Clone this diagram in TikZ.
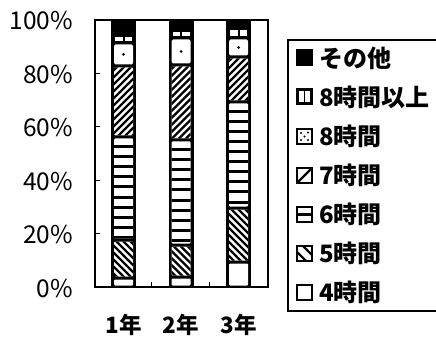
\documentclass[tikz,border=0pt]{standalone}
\usepackage{fontspec}
\setmainfont{Liberation Sans}
\newfontfamily\jp{Noto Sans CJK JP}
\newcommand\barbg[1]{\fill (#1,20) rectangle ({#1+25},287);}
\newcommand\segW[3]{\fill[white,rounded corners=1pt] ({#1+3},{#2+1.5}) rectangle ({#1+22},{#3-1.5});}
\newcommand\segH[3]{\begin{scope}\clip[rounded corners=1pt] ({#1+3},{#2+1.5}) rectangle ({#1+22},{#3-1.5});\fill[white] (#1,#2) rectangle ({#1+25},#3);\foreach \k in {0,...,15}{\fill (#1,{#2+8.5+10*\k}) rectangle ({#1+25},{#2+11.5+10*\k});}\end{scope}}
\newcommand\segNE[3]{\begin{scope}\clip[rounded corners=1pt] ({#1+3},{#2+1.5}) rectangle ({#1+22},{#3-1.5});\fill[white] (#1,#2) rectangle ({#1+25},#3);\foreach \k in {0,...,30}{\draw[line width=2.4pt] (#1,{#2+7*\k}) -- ({#1+25},{#2+7*\k-25});}\end{scope}}
\newcommand\segNW[3]{\begin{scope}\clip[rounded corners=1pt] ({#1+3},{#2+1.5}) rectangle ({#1+22},{#3-1.5});\fill[white] (#1,#2) rectangle ({#1+25},#3);\foreach \k in {0,...,30}{\draw[line width=2.4pt] (#1,{#2-25+7*\k}) -- ({#1+25},{#2+7*\k});}\end{scope}}
\newcommand\segDot[3]{\fill[white,rounded corners=1.5pt] ({#1+3},{#2+1.5}) rectangle ({#1+22},{#3-1.5});\fill ({#1+12.5},{(#2+#3)/2}) circle (1.5);}
\newcommand\segTwo[3]{\fill[white] ({#1+4},{#2+2}) rectangle ({#1+11.5},{#3-2});\fill[white] ({#1+13.5},{#2+2}) rectangle ({#1+21},{#3-2});}
\begin{document}
\begin{tikzpicture}[x=1pt,y=-1pt,
  axislab/.style={font=\jp\fontsize{24.5}{24.5}\selectfont,anchor=base east,inner sep=0pt},
  yearlab/.style={font=\jp\bfseries\fontsize{22.5}{22.5}\selectfont,anchor=base,inner sep=0pt},
  leglab/.style={font=\jp\bfseries\fontsize{24}{24}\selectfont,anchor=west,inner sep=0pt},
  icon/.style={line width=2.2pt}]
\useasboundingbox (0,0) rectangle (436,339);
% frame and ticks
\draw[line width=1.5pt] (95,20) rectangle (268,287);
\foreach \t in {73.4,126.8,180.2,233.6}{\draw[line width=1pt] (95,\t) -- (100,\t);}
\draw[line width=1pt] (151.5,287) -- (151.5,282);
\draw[line width=1pt] (209,287) -- (209,282);
% axis labels
\node[axislab] (p100) at (73,30) {100\%};
\node[axislab] (p80) at (73,83.4) {80\%};
\node[axislab] (p60) at (73,136.8) {60\%};
\node[axislab] (p40) at (73,190.2) {40\%};
\node[axislab] (p20) at (73,243.6) {20\%};
\node[axislab] (p0) at (73,297) {0\%};
% bar 1
\barbg{111}
\segW{111}{278}{287}\segNW{111}{240}{278}\segH{111}{137}{240}\segNE{111}{66}{137}\segDot{111}{43}{66}\segTwo{111}{35}{43}
% bar 2
\barbg{168.5}
\segW{168.5}{277}{287}\segNW{168.5}{245}{277}\segH{168.5}{140}{245}\segNE{168.5}{65}{140}\segDot{168.5}{38}{65}\segTwo{168.5}{30}{38}
% bar 3
\barbg{226}
\segW{226}{262}{287}\segNW{226}{208}{262}\segH{226}{102}{208}\segNE{226}{57}{102}\segDot{226}{38}{57}\segTwo{226}{28}{38}
% year labels
\node[yearlab] (y1) at (123.5,333) {1年};
\node[yearlab] (y2) at (181,333) {2年};
\node[yearlab] (y3) at (238.5,333) {3年};
% legend frame
\draw[line width=1.2pt] (440,40) -- (288,40) -- (288,311) -- (440,311);
% legend icons
\fill (296,49.5) rectangle (313,66.5);
\fill (296,88.5) rectangle (313,105.5);
\fill[white] (299,91.5) rectangle (303.8,102.5);
\fill[white] (305.2,91.5) rectangle (310,102.5);
\draw[icon] (297,129) rectangle (312,144);
\foreach \p in {(301,133),(308,132.5),(304.5,136.5),(301,140),(308,140)}{\fill \p circle (1.1);}
\draw[icon] (297,168) rectangle (312,183);
\draw[icon] (298,182) -- (311,169);
\draw[icon] (297,207) rectangle (312,222);
\draw[icon] (297,214.5) -- (312,214.5);
\draw[icon] (297,246) rectangle (312,261);
\begin{scope}\clip (297,246) rectangle (312,261);
\draw[icon] (297,240) -- (318,261);
\draw[icon] (291,246) -- (312,267);
\end{scope}
\draw[icon] (297,285) rectangle (312,300);
% legend labels
\node[leglab] (l1) at (319,58) {その他};
\node[leglab] (l2) at (319,97) {8時間以上};
\node[leglab] (l3) at (319,136.5) {8時間};
\node[leglab] (l4) at (319,175.5) {7時間};
\node[leglab] (l5) at (319,214.5) {6時間};
\node[leglab] (l6) at (319,253.5) {5時間};
\node[leglab] (l7) at (319,292.5) {4時間};
\end{tikzpicture}
\end{document}
